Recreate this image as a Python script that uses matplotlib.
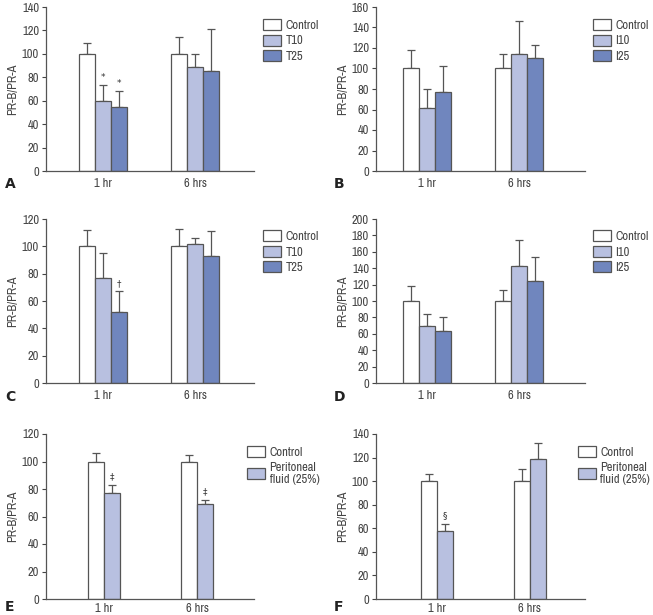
import matplotlib
matplotlib.use("Agg")
import matplotlib.pyplot as plt
import numpy as np

plt.rcParams['font.family'] = ['Archivo Narrow', 'DejaVu Sans']

groups = ["1 hr", "6 hrs"]

# Panel A
A_series = ["Control", "T10", "T25"]
A_vals = [[100, 100], [60, 89], [55, 85]]
A_err = [[9, 14], [13, 11], [13, 36]]
A_marks = [[None, None], ["*", None], ["*", None]]

# Panel B
B_series = ["Control", "I10", "I25"]
B_vals = [[100, 100], [61, 114], [77, 110]]
B_err = [[18, 14], [19, 32], [25, 13]]
B_marks = [[None, None], [None, None], [None, None]]

# Panel C
C_series = ["Control", "T10", "T25"]
C_vals = [[100, 100], [77, 102], [52, 93]]
C_err = [[12, 13], [18, 4], [15, 18]]
C_marks = [[None, None], [None, None], ["\u2020", None]]

# Panel D
D_series = ["Control", "I10", "I25"]
D_vals = [[100, 100], [69, 143], [64, 125]]
D_err = [[18, 14], [15, 32], [16, 29]]
D_marks = [[None, None], [None, None], [None, None]]

# Panel E
E_series = ["Control", "Peritoneal\nfluid (25%)"]
E_vals = [[100, 100], [77, 69]]
E_err = [[6, 5], [6, 3]]
E_marks = [[None, None], ["\u2021", "\u2021"]]

# Panel F
F_series = ["Control", "Peritoneal\nfluid (25%)"]
F_vals = [[100, 100], [58, 119]]
F_err = [[6, 10], [6, 13]]
F_marks = [[None, None], ["\u00a7", None]]

colors3 = ["#ffffff", "#b8c0e0", "#7086be"]
colors2 = ["#ffffff", "#b8c0e0"]
edge = "#555555"
txt = "#444444"

W, H = 653, 615
fig = plt.figure(figsize=(W / 100, H / 100), dpi=100)


def px_rect(l, r, top, bot):
    return [l / W, 1 - bot / H, (r - l) / W, (bot - top) / H]


def panel(rect, series, vals, errs, marks, colors, ymax, ystep, centers_px,
          leg_xy, label, label_xy, xpad=5):
    ax = fig.add_axes(rect)
    axw_px = rect[2] * W
    bw = 16.0
    n = len(series)
    for i in range(n):
        offs = (i - (n - 1) / 2) * bw
        xs = np.array(centers_px) + offs
        ax.bar(xs, vals[i], width=bw, color=colors[i], edgecolor=edge,
               linewidth=0.9, label=series[i], zorder=2)
        ax.errorbar(xs, vals[i], yerr=[np.zeros(len(xs)), errs[i]], fmt='none',
                    ecolor=edge, elinewidth=0.9, capsize=3, capthick=0.9, zorder=1)
        for j, m in enumerate(marks[i]):
            if m:
                ax.text(xs[j], vals[i][j] + errs[i][j] + ymax * 0.02, m,
                        ha='center', va='bottom', fontsize=6.5, color='#333333',
                        family='DejaVu Sans')
    ax.set_xlim(0, axw_px)
    ax.set_ylim(0, ymax)
    ax.set_yticks(np.arange(0, ymax + 1, ystep))
    ax.set_xticks(centers_px)
    ax.set_xticklabels(groups)
    ax.tick_params(axis='x', length=0, labelsize=9, colors=txt, pad=xpad)
    ax.tick_params(axis='y', length=3, width=0.8, labelsize=9, colors=txt,
                   direction='out', pad=2)
    for s in ['top', 'right']:
        ax.spines[s].set_visible(False)
    for s in ['left', 'bottom']:
        ax.spines[s].set_color('#555555')
        ax.spines[s].set_linewidth(0.9)
    ax.set_ylabel("PR-B/PR-A", fontsize=9, color=txt, labelpad=3)
    ax.legend(loc='upper left', bbox_to_anchor=(leg_xy[0] / W, 1 - leg_xy[1] / H),
              bbox_transform=fig.transFigure, frameon=False, fontsize=9,
              handlelength=1.4, handleheight=1.0, handletextpad=0.4,
              labelspacing=0.3, borderpad=0, borderaxespad=0,
              labelcolor=txt)
    fig.text(label_xy[0] / W, 1 - label_xy[1] / H, label, fontsize=10,
             fontweight='bold', ha='left', va='center', family='DejaVu Sans',
             color='#222222')
    return ax


panel(px_rect(46, 254, 7, 171), A_series, A_vals, A_err, A_marks, colors3,
      140, 20, [57, 149], (263, 19), "A", (5, 184))
panel(px_rect(376, 585, 7, 171), B_series, B_vals, B_err, B_marks, colors3,
      160, 20, [51, 143], (593, 19), "B", (334, 184))
panel(px_rect(46, 254, 219, 383), C_series, C_vals, C_err, C_marks, colors3,
      120, 20, [57, 149], (263, 230), "C", (5, 397))
panel(px_rect(376, 585, 219, 383), D_series, D_vals, D_err, D_marks, colors3,
      200, 20, [51, 143], (593, 230), "D", (334, 397))
panel(px_rect(46, 254, 434, 599), E_series, E_vals, E_err, E_marks, colors2,
      120, 20, [58, 151], (247, 446), "E", (5, 607), xpad=3)
panel(px_rect(376, 585, 434, 599), F_series, F_vals, F_err, F_marks, colors2,
      140, 20, [61, 154], (578, 446), "F", (334, 607), xpad=3)

fig.savefig("out.png", dpi=100)
